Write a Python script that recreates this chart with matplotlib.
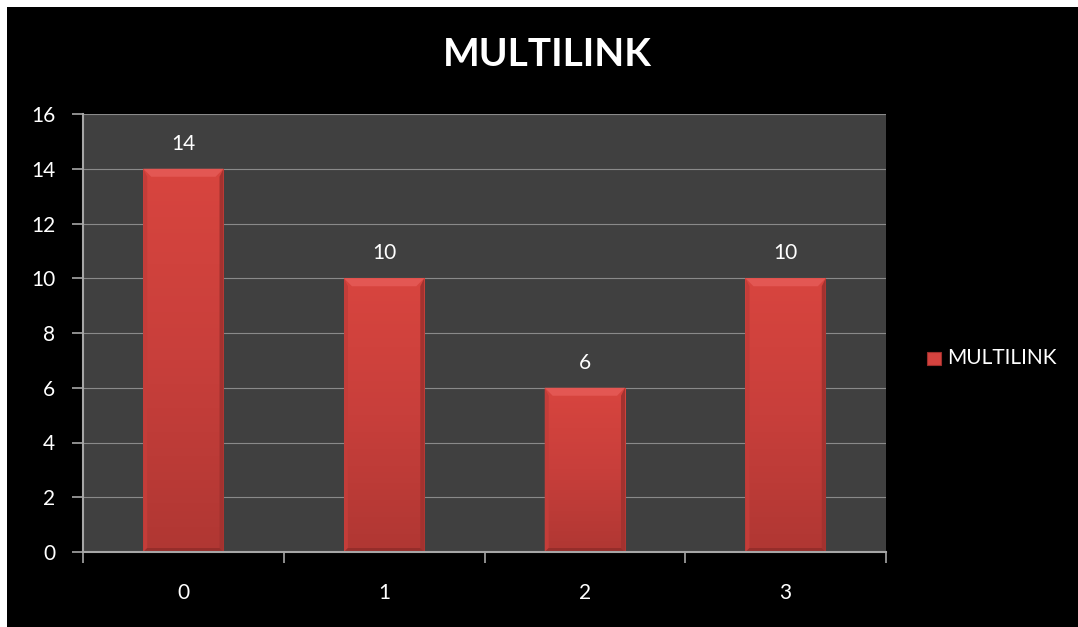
import numpy as np
import matplotlib
matplotlib.use("Agg")
import matplotlib.pyplot as plt
from matplotlib.patches import Rectangle, Polygon

# chart data
categories = ["0", "1", "2", "3"]
counts = [14, 10, 6, 10]
series_name = "MULTILINK"
y_ticks = [0, 2, 4, 6, 8, 10, 12, 14, 16]

plt.rcParams["font.family"] = ["Lato", "DejaVu Sans"]

W, H = 1078, 627
fig = plt.figure(figsize=(W / 100, H / 100), dpi=100, facecolor="black")

# thin white strip along top and left edges
fig.patches.append(Rectangle((0, 1 - 7 / H), 1, 7 / H, transform=fig.transFigure,
                             facecolor="white", edgecolor="none", zorder=-5))
fig.patches.append(Rectangle((0, 0), 7 / W, 1, transform=fig.transFigure,
                             facecolor="white", edgecolor="none", zorder=-5))

left, right, bottom, top = 83 / W, 886 / W, 1 - 552 / H, 1 - 114 / H
ax = fig.add_axes([left, bottom, right - left, top - bottom])
ax.set_facecolor("#404040")

x = np.arange(len(categories))
bar_w = 0.4
ax.set_xlim(-0.5, len(categories) - 0.5)
ax.set_ylim(0, 16)

# pixel -> data conversion for the bevel edges
px_x = (len(categories)) / (right - left) / W
px_y = 16 / (top - bottom) / H
bev = 8

bars = ax.bar(x, counts, width=bar_w, color="#d5433f", edgecolor="none", zorder=3)

grad = np.linspace(0, 1, 256).reshape(-1, 1)
shade = matplotlib.colors.LinearSegmentedColormap.from_list(
    "bar", ["#b03733", "#c83f3b", "#d8453f"])
for rect, v in zip(bars, counts):
    x0 = rect.get_x()
    x1 = x0 + rect.get_width()
    # vertical shading: brighter at top, darker toward base
    im = ax.imshow(grad, extent=(x0, x1, 0, v), origin="lower", aspect="auto",
                   cmap=shade, zorder=3.1, interpolation="bicubic")
    im.set_clip_path(rect)
    bx, by = bev * px_x, bev * px_y
    # top bevel
    ax.add_patch(Polygon([(x0, v), (x1, v), (x1 - bx, v - by), (x0 + bx, v - by)],
                         closed=True, facecolor="#e35753", edgecolor="none", zorder=3.3))
    # left bevel
    ax.add_patch(Polygon([(x0, v), (x0 + bx * 0.5, v - by), (x0 + bx * 0.5, by * 0.5), (x0, 0)],
                         closed=True, facecolor="#c43d39", edgecolor="none", zorder=3.2))
    # right bevel
    ax.add_patch(Polygon([(x1, v), (x1 - bx * 0.5, v - by), (x1 - bx * 0.5, by * 0.5), (x1, 0)],
                         closed=True, facecolor="#a3322f", edgecolor="none", zorder=3.2))
    # bottom bevel
    ax.add_patch(Polygon([(x0, 0), (x1, 0), (x1 - bx * 0.5, by * 0.5), (x0 + bx * 0.5, by * 0.5)],
                         closed=True, facecolor="#962d2a", edgecolor="none", zorder=3.25))
    # value label
    ax.text(rect.get_x() + rect.get_width() / 2, v + 25 * px_y, str(v),
            ha="center", va="center", color="white", fontsize=15, zorder=4)

# axes styling
ax.set_yticks(y_ticks)
ax.set_yticklabels([str(t) for t in y_ticks])
ax.yaxis.grid(True, color="#8a8a8a", linewidth=0.8, zorder=0)
ax.set_axisbelow(True)

ax.set_xticks(np.arange(-0.5, len(categories)), labels=[""] * (len(categories) + 1))
ax.set_xticks(x, labels=categories, minor=True)
ax.tick_params(axis="x", which="major", length=8, width=1.2, color="#a6a6a6", direction="out")
ax.tick_params(axis="x", which="minor", length=0, pad=22, labelsize=15, labelcolor="white")
ax.tick_params(axis="y", length=8, width=1.2, color="#a6a6a6", direction="out",
               pad=12, labelsize=15, labelcolor="white")

for s in ["top", "right"]:
    ax.spines[s].set_visible(False)
for s in ["left", "bottom"]:
    ax.spines[s].set_color("#a6a6a6")
    ax.spines[s].set_linewidth(1.5)
    ax.spines[s].set_zorder(5)

fig.text(547 / W, 1 - 55 / H, "MULTILINK", ha="center", va="center",
         color="white", fontsize=28, fontweight="bold")

# legend
leg_y = 1 - 358 / H
fig.patches.append(Rectangle((927 / W, leg_y - 6.5 / H), 14 / W, 13 / H,
                             transform=fig.transFigure, facecolor="#d5433f",
                             edgecolor="#9c2e2b", linewidth=0.8))
fig.text(947 / W, leg_y, series_name, ha="left", va="center",
         color="white", fontsize=15)

fig.savefig("out.png", dpi=100, facecolor=fig.get_facecolor())
